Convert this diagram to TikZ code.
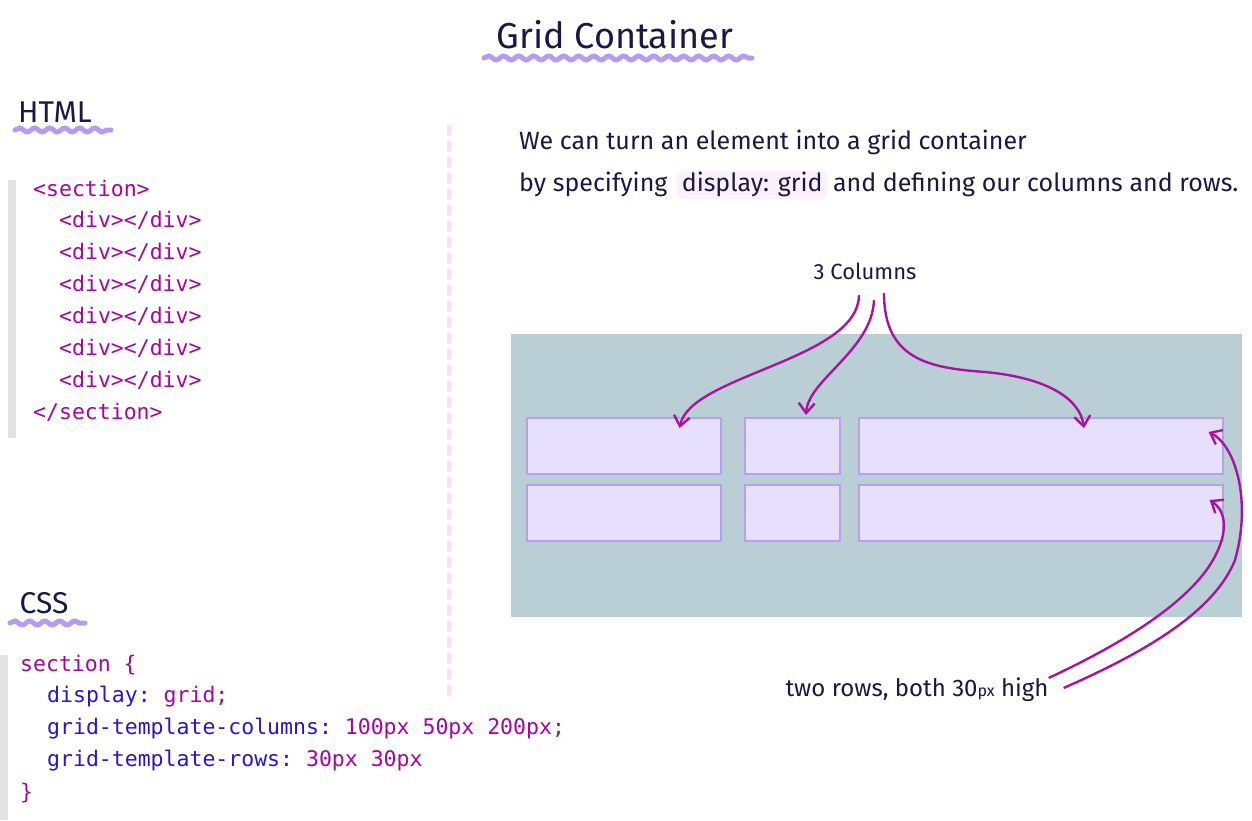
\documentclass[tikz,border=0pt]{standalone}
\usepackage{fontspec}
\setmainfont{Fira Sans}
\setmonofont{DejaVu Sans Mono}
\usetikzlibrary{arrows.meta,positioning,calc,decorations.pathmorphing}
\definecolor{inkNavy}{HTML}{1B1845}
\definecolor{waveLilac}{HTML}{A98BF2}
\definecolor{tagMagenta}{HTML}{A1089C}
\definecolor{propBlue}{HTML}{2A16CC}
\definecolor{barGrey}{HTML}{E3E3E3}
\definecolor{dashPink}{HTML}{FDDDF6}
\definecolor{gridBack}{HTML}{BACFD5}
\definecolor{cellBack}{HTML}{E6E0FE}
\definecolor{cellFrame}{HTML}{B5A2EE}
\definecolor{markBack}{HTML}{FCF1FB}
\definecolor{arrowMagenta}{HTML}{A8139F}

\begin{document}
\begin{tikzpicture}[x=1pt,y=-1pt,>={Straight Barb[length=10pt,width=16pt]}]
  \tikzstyle{hand}=[text=inkNavy,inner sep=0pt,text height=18pt,text depth=6pt,font=\fontsize{25}{30}\selectfont]
  \tikzstyle{heading}=[text=inkNavy,inner sep=0pt,font=\fontsize{30}{34}\selectfont]
  \tikzstyle{code}=[anchor=west,inner sep=0pt,font=\ttfamily\fontsize{21.5}{25}\selectfont]
  \tikzstyle{wave}=[draw=waveLilac,line width=5pt,line cap=round,opacity=0.85,decorate,decoration={snake,amplitude=2pt,segment length=15pt}]
  \tikzstyle{cell}=[draw=cellFrame,fill=cellBack,line width=1.6pt,anchor=north west,minimum height=56pt,inner sep=0pt]
  \tikzstyle{pointer}=[->,draw=arrowMagenta,line width=2.4pt]
  \useasboundingbox[fill=white] (0,0) rectangle (1252,820);

  % headings
  \node[heading,font=\fontsize{36}{40}\selectfont] (title) at (615,35) {Grid Container};
  \draw[wave] (484,58) -- (752,58);
  \node[heading] (html) at (55,112) {HTML};
  \draw[wave] (15,130) -- (111,130);
  \node[heading] (css) at (44,603) {CSS};
  \draw[wave] (10,623) -- (85,623);

  % code samples
  \fill[barGrey] (8,180) rectangle (16,438);
  \node[code,text=tagMagenta] (sec) at (33,188) {<section>};
  \foreach \i in {1,...,6}
    \node[code,text=tagMagenta] (div\i) at (59,{188+32*\i}) {<div></div>};
  \node[code,text=tagMagenta] (secend) at (33,412) {</section>};
  \fill[barGrey] (0,655) rectangle (8,820);
  \node[code,text=tagMagenta] (rule) at (20,665) {section \{};
  \node[code,text=propBlue] (disp) at (47,697) {display: \textcolor{tagMagenta}{grid;}};
  \node[code,text=propBlue] (cols) at (47,729) {grid-template-columns: \textcolor{tagMagenta}{100px 50px 200px;}};
  \node[code,text=propBlue] (rows) at (47,761) {grid-template-rows: \textcolor{tagMagenta}{30px 30px}};
  \node[code,text=tagMagenta] (ruleend) at (20,793) {\}};

  \draw[dashPink,line width=4pt,dash pattern=on 10pt off 6pt] (449,125) -- (449,695);

  % explanation
  \node[hand,anchor=west] (line1) at (519,143) {We can turn an element into a grid container};
  \node[hand,anchor=west] (by) at (519,185) {by specifying};
  \node[hand,fill=markBack,rounded corners=7pt,inner xsep=5pt,inner ysep=2pt,right=9pt of by] (mark) {display: grid};
  \node[hand,right=5pt of mark] (rest) {and defining our columns and rows.};

  % the grid
  \node[fill=gridBack,minimum width=731pt,minimum height=283pt,anchor=north west,inner sep=0pt] (grid) at (511,334) {};
  \foreach \r/\y in {1/417,2/484} {
    \node[cell,minimum width=194pt] (c\r1) at (526,\y) {};
    \node[cell,minimum width=95pt] (c\r2) at (744,\y) {};
    \node[cell,minimum width=364pt] (c\r3) at (858,\y) {};
  }

  \node[hand,font=\fontsize{22}{26}\selectfont] (colnote) at (865,273) {3 Columns};
  \node[hand,font=\fontsize{24}{28}\selectfont] (rownote) at (917,690) {two rows, both 30{\fontsize{16}{18}\selectfont px} high};

  \draw[pointer] ($(colnote.south)+(-6,10)$) .. controls (858,360) and (690,375) .. ($(c11.north east)+(-42,11)$);
  \draw[pointer] ($(colnote.south)+(9,15)$) .. controls (872,350) and (808,380) .. ($(c12.north west)+(62,-2)$);
  \draw[pointer] ($(colnote.south)+(19,8)$) .. controls (884,360) and (930,368) .. (985,372) .. controls (1050,378) and (1080,400) .. ($(c13.north west)+(226,11)$);
  \draw[pointer] ($(rownote.east)+(15,-2)$) .. controls (1150,650) and (1215,610) .. (1235,560) .. controls (1252,500) and (1235,445) .. ($(c13.north east)+(-15,15)$);
  \draw[pointer] ($(rownote.east)+(0,-12)$) .. controls (1130,640) and (1190,600) .. (1213,560) .. controls (1230,530) and (1225,510) .. ($(c23.north east)+(-14,16)$);
\end{tikzpicture}
\end{document}
